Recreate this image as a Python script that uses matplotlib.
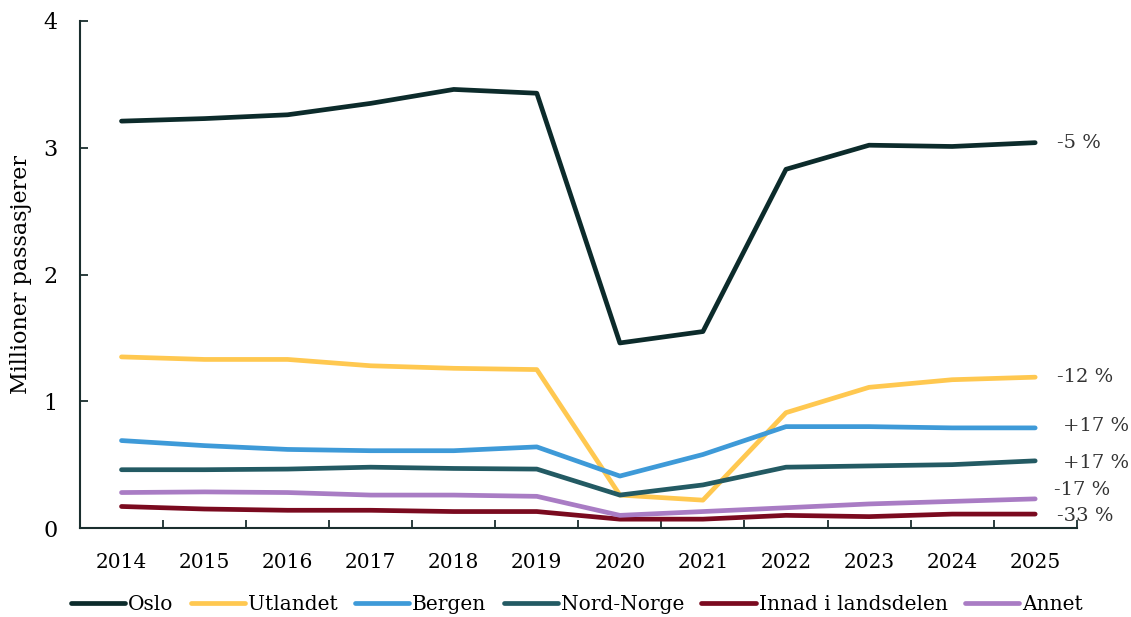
import numpy as np
import matplotlib
matplotlib.use("Agg")
import matplotlib.pyplot as plt

plt.rcParams['font.family'] = ['DejaVu Serif']

years = ['2014', '2015', '2016', '2017', '2018', '2019', '2020', '2021', '2022', '2023', '2024', '2025']

oslo = [3.21, 3.23, 3.26, 3.35, 3.46, 3.43, 1.46, 1.55, 2.83, 3.02, 3.01, 3.04]
utlandet = [1.35, 1.33, 1.33, 1.28, 1.26, 1.25, 0.26, 0.22, 0.91, 1.11, 1.17, 1.19]
bergen = [0.69, 0.65, 0.62, 0.61, 0.61, 0.64, 0.41, 0.58, 0.80, 0.80, 0.79, 0.79]
nord_norge = [0.46, 0.46, 0.465, 0.48, 0.47, 0.465, 0.26, 0.34, 0.48, 0.49, 0.50, 0.53]
innad = [0.17, 0.15, 0.14, 0.14, 0.13, 0.13, 0.07, 0.07, 0.10, 0.09, 0.11, 0.11]
annet = [0.28, 0.285, 0.28, 0.26, 0.26, 0.25, 0.10, 0.13, 0.16, 0.19, 0.21, 0.23]

series = [
    ('Oslo', oslo, '#0c2b2b', '-5 %'),
    ('Utlandet', utlandet, '#ffc850', '-12 %'),
    ('Bergen', bergen, '#3e9ad8', '+17 %'),
    ('Nord-Norge', nord_norge, '#235a63', '+17 %'),
    ('Innad i landsdelen', innad, '#7a0a1f', '-33 %'),
    ('Annet', annet, '#a97cc4', '-17 %'),
]
# pixel offsets for the end labels (x, y)
label_offsets = {'Oslo': (22, 0), 'Utlandet': (22, 0), 'Bergen': (28, 2),
                 'Nord-Norge': (28, -2), 'Innad i landsdelen': (22, -2),
                 'Annet': (19, 9)}

fig = plt.figure(figsize=(11.31, 6.17), dpi=100)
ax = fig.add_axes([0.0707, 0.1442, 0.8813, 0.8218])

x = np.arange(len(years))
for name, vals, col, lab in series:
    ax.plot(x, vals, color=col, linewidth=3.4, label=name,
            solid_capstyle='round', solid_joinstyle='round')
    dx, dy = label_offsets[name]
    ax.annotate(lab, (x[-1], vals[-1]), xytext=(dx, dy), textcoords='offset pixels',
                ha='left', va='center', fontsize=14, color='#333333',
                annotation_clip=False)

ax.set_xlim(-0.5, len(years) - 0.5)
ax.set_ylim(0, 4)
ax.set_yticks([0, 1, 2, 3, 4])
ax.set_xticks(x)
ax.set_xticklabels(years)
ax.set_xticks(np.arange(-0.5, len(years)), minor=True)
ax.tick_params(axis='x', which='major', length=0, pad=18, labelsize=14.5)
ax.tick_params(axis='x', which='minor', direction='in', length=6, width=1.3, color='#1a2e2e')
ax.tick_params(axis='y', direction='in', length=6, width=1.3, color='#1a2e2e', pad=16, labelsize=16)
for side in ['top', 'right']:
    ax.spines[side].set_visible(False)
for side in ['left', 'bottom']:
    ax.spines[side].set_color('#1a2e2e')
    ax.spines[side].set_linewidth(1.5)

ax.set_ylabel('Millioner passasjerer', fontsize=16, labelpad=8)

handles, labels = ax.get_legend_handles_labels()
fig.legend(handles, labels, loc='lower center', bbox_to_anchor=(0.51, -0.025), ncol=6,
           frameon=False, fontsize=14.5, handlelength=2.7, handletextpad=0.15,
           columnspacing=0.85)

fig.savefig('out.png', dpi=100)
